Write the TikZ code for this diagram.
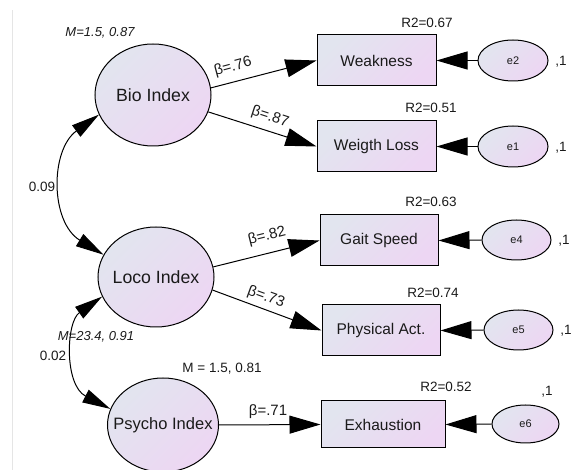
\documentclass[tikz,border=0pt]{standalone}
\usepackage{fontspec}
\setmainfont{Liberation Sans}
\usetikzlibrary{shapes.geometric,arrows.meta}
\definecolor{gA}{HTML}{E2E5EF}
\definecolor{gB}{HTML}{EDD6F3}
\definecolor{txt}{HTML}{1A1A1A}
\tikzset{
  shadefill/.style={left color=gA, right color=gB, shading angle=45},
  lat/.style={ellipse, draw=black, line width=1pt, shadefill, inner sep=0pt, text=txt, font=\fontsize{17.7}{21}\selectfont},
  obs/.style={rectangle, draw=black, line width=1pt, shadefill, inner sep=0pt, text=txt, font=\fontsize{15.5}{18}\selectfont},
  err/.style={ellipse, draw=black, line width=1pt, shadefill, inner sep=0pt, text=txt, font=\fontsize{11}{13}\selectfont},
  reg/.style={line width=1pt, -{Triangle[length=31pt,width=18pt]}},
  cov/.style={line width=1pt, {Triangle[length=28pt,width=14pt]}-{Triangle[length=28pt,width=14pt]}},
  lbl/.style={inner sep=0pt, text=txt, font=\fontsize{13.5}{16}\selectfont},
  blbl/.style={inner sep=0pt, text=txt, font=\fontsize{15}{17}\selectfont},
  mlbl/.style={inner sep=0pt, text=txt, font=\fontsize{13}{15}\selectfont\itshape},
}
\begin{document}
\begin{tikzpicture}[x=1pt,y=-1pt]
\useasboundingbox (0,0) rectangle (574,470);
\draw[black!10, line width=1pt] (12,10) -- (12,470);
% latent
\node[lat, minimum width=116pt, minimum height=102pt] (bio) at (153,95) {\makebox[0pt]{Bio Index}};
\node[lat, minimum width=116pt, minimum height=100pt] (loco) at (156,277) {\makebox[0pt]{Loco Index}};
\node[lat, minimum width=111pt, minimum height=94pt, font=\fontsize{16.5}{20}\selectfont] (psy) at (163,425) {\makebox[0pt]{Psycho Index}};
% observed
\node[obs, minimum width=119pt, minimum height=51pt] (weak) at (376.5,60.5) {Weakness};
\node[obs, minimum width=119pt, minimum height=51pt] (wl) at (376.5,146.5) {Weigth Loss};
\node[obs, minimum width=118pt, minimum height=51pt] (gait) at (379,240.5) {Gait Speed};
\node[obs, minimum width=118pt, minimum height=51pt] (phys) at (381,330.5) {Physical Act.};
\node[obs, minimum width=124pt, minimum height=47pt] (exh) at (383,424.5) {Exhaustion};
% errors
\node[err, minimum width=70pt, minimum height=41pt] (e2) at (513,60.5) {e2};
\node[err, minimum width=70pt, minimum height=41pt] (e1) at (513,146.5) {e1};
\node[err, minimum width=69pt, minimum height=40pt] (e4) at (516.5,240) {e4};
\node[err, minimum width=69pt, minimum height=40pt] (e5) at (518.5,330) {e5};
\node[err, minimum width=67pt, minimum height=38pt] (e6) at (525.5,424) {e6};
% regression paths
\draw[reg] (bio.7) -- (weak.west);
\draw[reg] (bio.-17) -- (wl.west);
\draw[reg] (loco.10) -- (gait.west);
\draw[reg] (loco.-13) -- (phys.west);
\draw[reg] (psy.east) -- (exh.west);
\draw[reg] (e2.west) -- (weak.east);
\draw[reg] (e1.west) -- (wl.east);
\draw[reg] (e4.west) -- (gait.east);
\draw[reg] (e5.west) -- (phys.east);
\draw[reg] (e6.west) -- (exh.east);
% covariances
\draw[cov] (bio.200.7) .. controls (50,150) and (50,222) .. (loco.157);
\draw[cov] (loco.200.7) .. controls (66,322) and (64,385) .. (psy.163.6);
% labels
\node[mlbl] (mbio) at (100,33) {M=1.5, 0.87};
\node[mlbl] (mloco) at (96,337) {M=23.4, 0.91};
\node[lbl] (mpsy) at (222,369) {M = 1.5, 0.81};
\node[lbl] (c1) at (42,187) {0.09};
\node[lbl] (c2) at (53,356) {0.02};
\node[blbl, rotate=15] (b1) at (233,67) {β=.76};
\node[blbl, rotate=-18] (b2) at (270,117) {β=.87};
\node[blbl, rotate=14] (b3) at (267,236) {β=.82};
\node[blbl, rotate=-20] (b4) at (266,297) {β=.73};
\node[blbl] (b5) at (268,412) {β=.71};
\node[lbl] (r1) at (427,23) {R2=0.67};
\node[lbl] (r2) at (431,108) {R2=0.51};
\node[lbl] (r3) at (431,202) {R2=0.63};
\node[lbl] (r4) at (433,293) {R2=0.74};
\node[lbl] (r5) at (446,387) {R2=0.52};
\node[lbl] (v2) at (561,62) {,1};
\node[lbl] (v1) at (561,148) {,1};
\node[lbl] (v4) at (564,241) {,1};
\node[lbl] (v5) at (566,331) {,1};
\node[lbl] (v6) at (547,392) {,1};
\end{tikzpicture}
\end{document}
